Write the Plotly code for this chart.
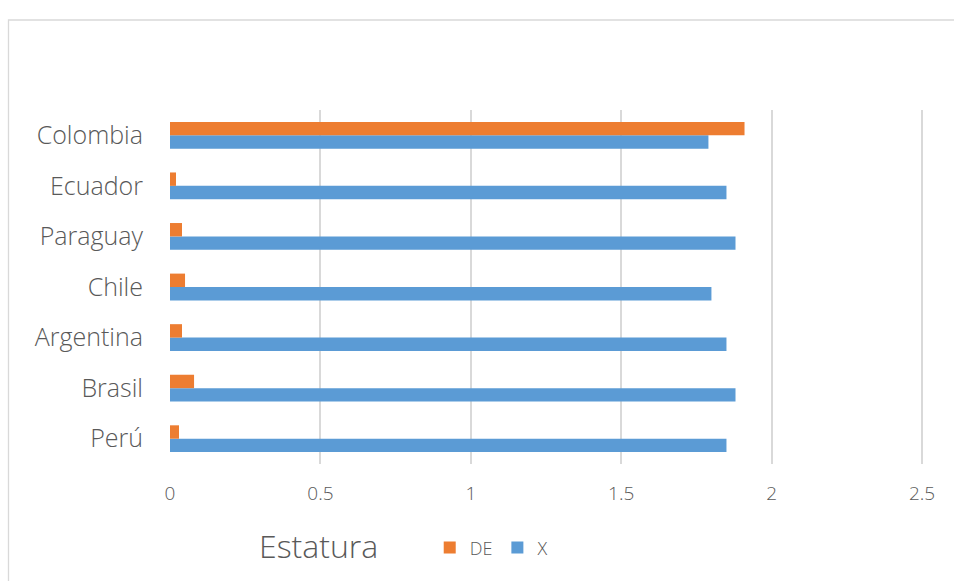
import plotly.graph_objects as go

categories = ["Perú", "Brasil", "Argentina", "Chile", "Paraguay", "Ecuador", "Colombia"]
x_values = [1.85, 1.88, 1.85, 1.80, 1.88, 1.85, 1.79]
de_values = [0.03, 0.08, 0.04, 0.05, 0.04, 0.02, 1.91]
x_ticks = [0, 0.5, 1, 1.5, 2, 2.5]
x_tick_labels = ["0", "0.5", "1", "1.5", "2", "2.5"]

FONT = "'Open Sans', Lato, sans-serif"
TXT = "#595959"

fig = go.Figure()
fig.add_trace(go.Bar(y=categories, x=x_values, orientation="h", name="X",
                     marker=dict(color="#5B9BD5", line=dict(width=0))))
fig.add_trace(go.Bar(y=categories, x=de_values, orientation="h", name="DE",
                     marker=dict(color="#ED7D31", line=dict(width=0))))

fig.update_layout(
    width=954, height=581,
    margin=dict(l=170, r=29, t=110, b=117),
    paper_bgcolor="white", plot_bgcolor="white",
    barmode="group", bargap=0.47, bargroupgap=0,
    font=dict(family=FONT, color=TXT, weight=300),
    showlegend=True,
    legend=dict(orientation="h", traceorder="reversed",
                x=0.344, xanchor="left", y=-0.237, yanchor="middle",
                font=dict(size=18, color=TXT, family=FONT, weight=300), itemwidth=30,
                bgcolor="rgba(0,0,0,0)"),
    xaxis=dict(range=[0, 2.51], tickvals=x_ticks, ticktext=x_tick_labels,
               showgrid=True, gridcolor="#D9D9D9", gridwidth=1.8,
               zeroline=False, showline=False, ticks="",
               tickfont=dict(size=19, color=TXT, family=FONT, weight=300),
               ticklabelstandoff=16),
    yaxis=dict(categoryorder="array", categoryarray=categories,
               showgrid=False, zeroline=False, showline=False, ticks="",
               tickfont=dict(size=25, color=TXT, family=FONT, weight=300),
               ticklabelstandoff=26),
    annotations=[dict(text="Estatura", xref="paper", yref="paper",
                      x=(318 - 170) / 755, y=(464 - 545) / 354,
                      xanchor="center", yanchor="middle", showarrow=False,
                      font=dict(size=32, color=TXT, family=FONT, weight=300))],
    shapes=[dict(type="rect", xref="paper", yref="paper",
                 x0=(8.5 - 170) / 755, x1=1.2, y0=-0.6, y1=(464 - 20) / 354,
                 line=dict(color="#D9D9D9", width=1.3), layer="below")],
)

fig.write_html("out.html", config={"displayModeBar": False},
               post_script="document.body.style.margin='0';")
